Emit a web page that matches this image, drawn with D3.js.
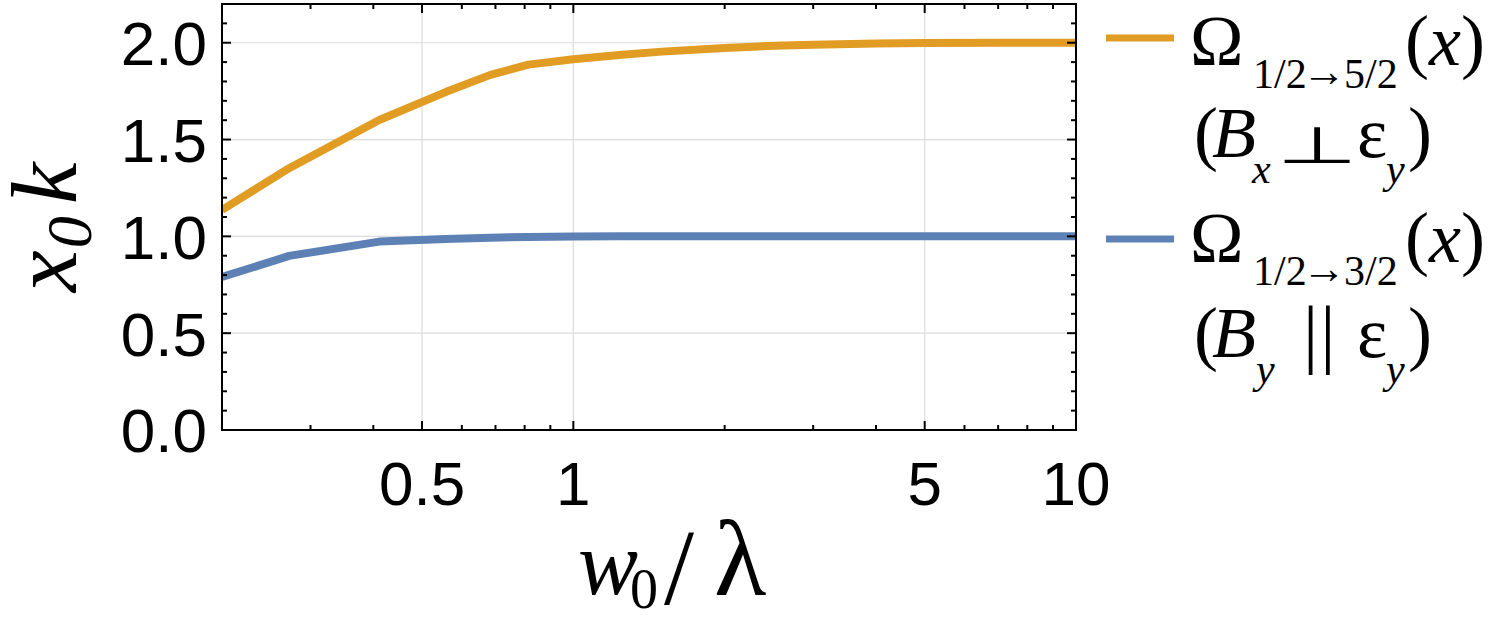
<!DOCTYPE html>
<html>
<head>
<meta charset="utf-8">
<script src="https://cdn.jsdelivr.net/npm/d3@7"></script>
<style>
html,body{margin:0;padding:0;background:#fff;}
svg{display:block;}
</style>
</head>
<body>
<svg id="chart" width="1493" height="621"></svg>
<script>
// ---- data ----
const wRatio = [0.2, 0.272, 0.411, 0.557, 0.684, 0.814, 1.0, 1.25, 1.5, 2.0, 2.5, 3.0, 4.0, 5.0, 7.0, 10.0];
const omega52 = [1.137, 1.352, 1.601, 1.745, 1.834, 1.887, 1.915, 1.938, 1.954, 1.973, 1.984, 1.990, 1.996, 1.999, 2.0, 2.0];
const omega32 = [0.790, 0.899, 0.973, 0.986, 0.993, 0.997, 0.999, 1.0, 1.0, 1.0, 1.0, 1.0, 1.0, 1.0, 1.0, 1.0];
const xMajorTicks = [0.5, 1, 5, 10];
const xMajorLabels = ["0.5", "1", "5", "10"];
const xMinorTicks = [0.3, 0.4, 0.6, 0.7, 0.8, 0.9, 2, 3, 4, 6, 7, 8, 9];
const xGrid = [0.5, 1, 5];
const yMajorTicks = [0, 0.5, 1.0, 1.5, 2.0];
const yMajorLabels = ["0.0", "0.5", "1.0", "1.5", "2.0"];
const yMinorTicks = [0.1,0.2,0.3,0.4,0.6,0.7,0.8,0.9,1.1,1.2,1.3,1.4,1.6,1.7,1.8,1.9,2.1];
const seriesColors = ["#E19C24", "#5E81B5"];
const legendSubs = ["1/2", "→", "5/2", "1/2", "→", "3/2"];
const legendFieldSubs = ["x", "y"];
const legendRelations = ["⊥", "||"];

// ---- layout ----
const L = 222, R = 1076, T = 4, B = 430;
const svg = d3.select("#chart");
const x = d3.scaleLog().domain([0.2, 10]).range([L, R]);
const y = d3.scaleLinear().domain([0, 2.2]).range([B, T]);

// grid
const g = svg.append("g");
g.selectAll("line.gx").data(xGrid).join("line")
  .attr("x1", d => x(d)).attr("x2", d => x(d)).attr("y1", T).attr("y2", B)
  .attr("stroke", "#dcdcdc").attr("stroke-width", 1.2);
g.selectAll("line.gy").data(yMajorTicks.filter(d => d > 0)).join("line")
  .attr("x1", L).attr("x2", R).attr("y1", d => y(d)).attr("y2", d => y(d))
  .attr("stroke", "#dcdcdc").attr("stroke-width", 1.2);

// clip
svg.append("clipPath").attr("id", "clip").append("rect")
  .attr("x", L).attr("y", T).attr("width", R - L).attr("height", B - T);

const line = d3.line().x(d => x(d[0])).y(d => y(d[1]));
const series = [omega52, omega32];
series.forEach((s, i) => {
  svg.append("path")
    .attr("clip-path", "url(#clip)")
    .attr("d", line(wRatio.map((w, k) => [w, s[k]])))
    .attr("fill", "none").attr("stroke", seriesColors[i])
    .attr("stroke-width", 8).attr("stroke-linejoin", "round");
});

// frame
svg.append("rect").attr("x", L).attr("y", T).attr("width", R - L).attr("height", B - T)
  .attr("fill", "none").attr("stroke", "#000").attr("stroke-width", 2);

// ticks (inward) on all sides
const tk = svg.append("g").attr("stroke", "#000").attr("stroke-width", 2);
function xt(data, len) {
  tk.selectAll(null).data(data).join("line")
    .attr("x1", d => x(d)).attr("x2", d => x(d)).attr("y1", B).attr("y2", B - len);
  tk.selectAll(null).data(data).join("line")
    .attr("x1", d => x(d)).attr("x2", d => x(d)).attr("y1", T).attr("y2", T + len);
}
function yt(data, len) {
  tk.selectAll(null).data(data).join("line")
    .attr("x1", L).attr("x2", L + len).attr("y1", d => y(d)).attr("y2", d => y(d));
  tk.selectAll(null).data(data).join("line")
    .attr("x1", R).attr("x2", R - len).attr("y1", d => y(d)).attr("y2", d => y(d));
}
xt(xMajorTicks, 9); xt(xMinorTicks, 5);
yt(yMajorTicks, 9); yt(yMinorTicks, 5);

// tick labels
const tickFont = "'Liberation Sans', Arial, sans-serif";
svg.selectAll("text.yl").data(yMajorTicks).join("text")
  .attr("x", 207).attr("y", d => y(d)).attr("dy", "0.36em")
  .attr("text-anchor", "end").attr("font-family", tickFont).attr("font-size", 62)
  .text((d, i) => yMajorLabels[i]);
svg.selectAll("text.xl").data(xMajorTicks).join("text")
  .attr("x", d => x(d)).attr("y", 505)
  .attr("text-anchor", "middle").attr("font-family", tickFont).attr("font-size", 62)
  .text((d, i) => xMajorLabels[i]);

// axis titles
const serif = "'Liberation Serif', 'Times New Roman', serif";
const yt1 = svg.append("text").attr("transform", "translate(76,292) rotate(-90)")
  .attr("font-family", serif).attr("font-size", 94).attr("font-style", "italic");
yt1.append("tspan").text("x");
yt1.append("tspan").attr("font-size", 64).attr("dy", 15).attr("dx", 2).text("0");
yt1.append("tspan").attr("dy", -15).attr("dx", 12).text("k");

const xtl = svg.append("text").attr("font-family", serif);
xtl.append("tspan").attr("x", 578).attr("y", 594).attr("font-size", 90).attr("font-style", "italic").text("w");
xtl.append("tspan").attr("x", 630).attr("y", 608).attr("font-size", 56).text("0");
xtl.append("tspan").attr("x", 664).attr("y", 604).attr("font-size", 108).text("/");
xtl.append("tspan").attr("x", 714).attr("y", 595).attr("font-size", 108).text("λ");

// legend
const legendPos = [{sy: 38, b1: 65, b2: 157}, {sy: 239, b1: 262, b2: 357}];
legendPos.forEach((p, i) => {
  svg.append("line").attr("x1", 1106).attr("x2", 1174).attr("y1", p.sy).attr("y2", p.sy)
    .attr("stroke", seriesColors[i]).attr("stroke-width", 7);
  const t1 = svg.append("text").attr("font-family", serif).attr("font-size", 72);
  t1.append("tspan").attr("x", 1190).attr("y", p.b1).text("Ω");
  t1.append("tspan").attr("x", 1253).attr("y", p.b1 + 23).attr("font-size", 42).text(legendSubs[i * 3]);
  t1.append("tspan").attr("x", 1302).attr("y", p.b1 + 21).attr("font-size", 44).text(legendSubs[i * 3 + 1]);
  t1.append("tspan").attr("x", 1344).attr("y", p.b1 + 23).attr("font-size", 42).text(legendSubs[i * 3 + 2]);
  t1.append("tspan").attr("x", 1405).attr("y", p.b1).text("(");
  t1.append("tspan").attr("font-style", "italic").text("x");
  t1.append("tspan").text(")");

  const t2 = svg.append("text").attr("font-family", serif).attr("font-size", 72);
  t2.append("tspan").attr("x", 1194).attr("y", p.b2).text("(");
  t2.append("tspan").attr("x", 1212).attr("y", p.b2).attr("font-style", "italic").text("B");
  t2.append("tspan").attr("x", i === 0 ? 1252 : 1256).attr("y", p.b2 + 26)
    .attr("font-style", "italic").attr("font-size", 42).text(legendFieldSubs[i]);
  t2.append("tspan").attr("x", 1357).attr("y", p.b2).text("ε");
  t2.append("tspan").attr("x", 1386).attr("y", p.b2 + 26)
    .attr("font-style", "italic").attr("font-size", 42).text("y");
  t2.append("tspan").attr("x", 1408).attr("y", p.b2).text(")");

  if (legendRelations[i] === "⊥") {
    svg.append("text").attr("transform", `translate(1277,${p.b2 + 6}) scale(1.45,0.8)`)
      .attr("font-family", "'DejaVu Sans', sans-serif").attr("font-size", 64)
      .text(legendRelations[i]);
  } else {
    svg.append("text").attr("x", 1303).attr("y", p.b2 + 2)
      .attr("font-family", serif).attr("font-size", 76).attr("letter-spacing", 2)
      .text(legendRelations[i]);
  }
});
</script>
</body>
</html>
